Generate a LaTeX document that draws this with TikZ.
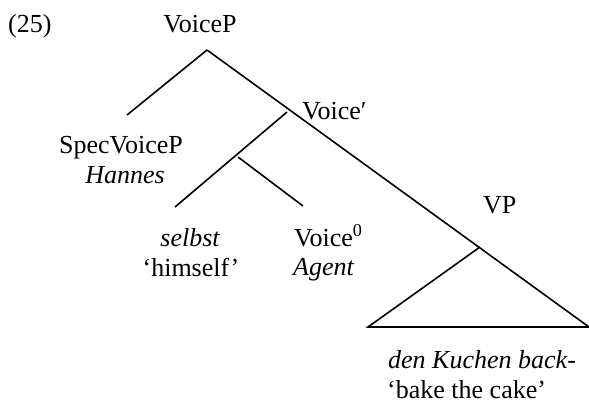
\documentclass[tikz,border=0pt]{standalone}
\usepackage{fontspec}
\setmainfont{Liberation Serif}
\begin{document}
\begin{tikzpicture}[x=1pt,y=-1pt,
  lbl/.style={inner sep=0pt,anchor=base,font=\fontsize{26}{30}\selectfont},
  lblw/.style={lbl,anchor=base west},
  branch/.style={line width=1.6pt,line cap=butt}]
\useasboundingbox (0,0) rectangle (589,408);

% example number and labels
\node[lblw] (num) at (8,32) {(25)};
\node[lbl] (voicep) at (200,32) {VoiceP};
\node[lbl] (spec) at (121,153) {SpecVoiceP};
\node[lbl] (hannes) at (125,183) {\itshape Hannes};
\node[lblw] (vbar) at (302,119) {Voice′};
\node[lbl] (selbst) at (190,246) {\itshape selbst};
\node[lbl] (himself) at (191,276) {‘himself’};
\node[lblw] (vzero) at (294,246) {Voice\textsuperscript{0}};
\node[lblw] (agent) at (293,275) {\itshape Agent};
\node[lblw] (vp) at (483,213) {VP};
\node[lblw] (kuchen) at (388,368) {\itshape den Kuchen back-};
\node[lblw] (cake) at (387,398) {‘bake the cake’};

% branch points
\coordinate (top) at (207,50);
\coordinate (specend) at (127,115);
\coordinate (rightend) at (589,327);
\coordinate (vbarstart) at (287,112);
\coordinate (selbstend) at (175,207);
\coordinate (innerstart) at (238,157);
\coordinate (vzeroend) at (303,206);
\coordinate (vpstart) at (480,247);
\coordinate (triL) at (368,327);

% tree
\draw[branch] (top) -- (specend);
\draw[branch] (top) -- (rightend);
\draw[branch] (vbarstart) -- (selbstend);
\draw[branch] (innerstart) -- (vzeroend);
\draw[branch] (vpstart) -- (triL) -- (rightend);
\end{tikzpicture}
\end{document}
